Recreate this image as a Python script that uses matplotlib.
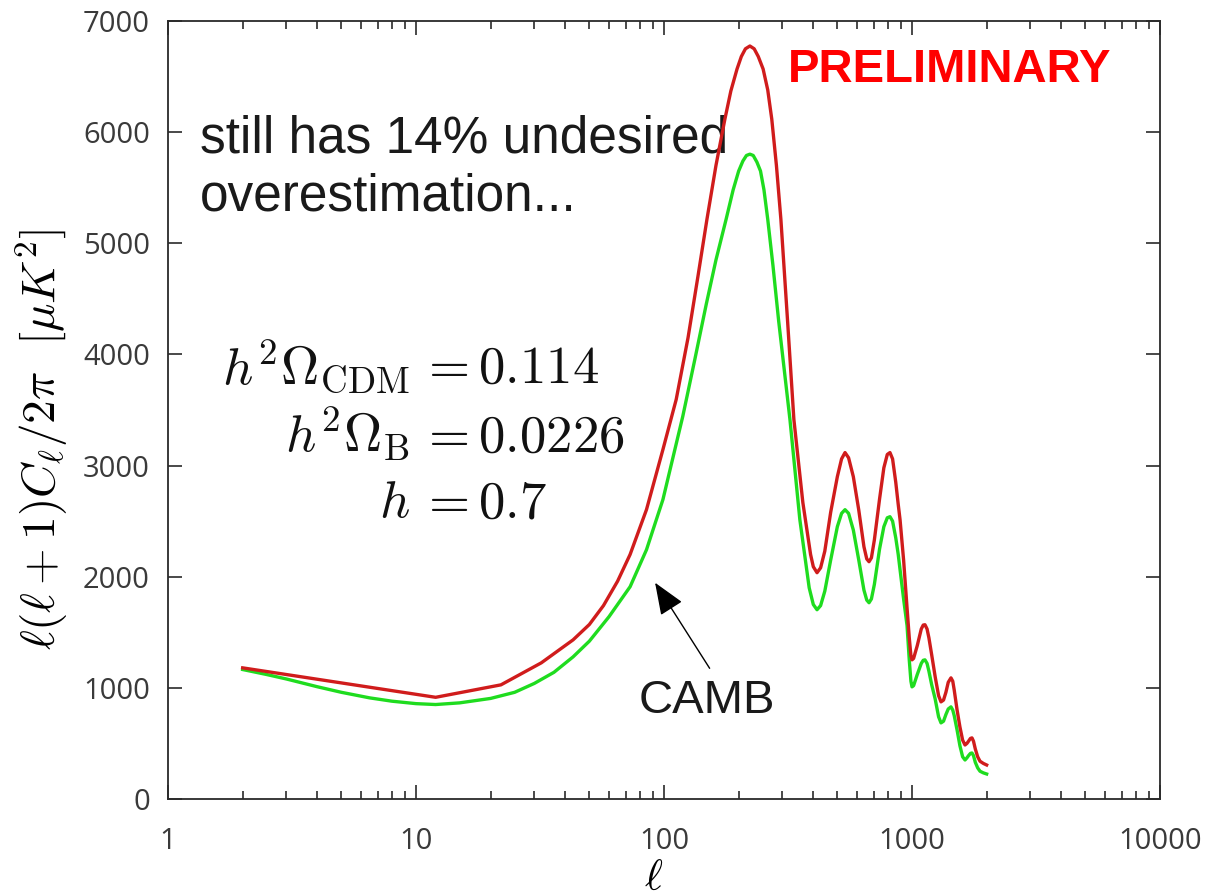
import numpy as np
import matplotlib.pyplot as plt
from matplotlib.ticker import LogLocator, NullFormatter, FixedLocator, NullLocator

plt.rcParams['mathtext.fontset'] = 'cm'

# values: multipole l and l(l+1)C_l/2pi [uK^2]
ell_red = [2, 12, 22, 32, 43, 50, 57, 65, 73, 85, 99, 112, 125, 137, 149, 162,
           176, 186, 197, 205, 213, 222, 231, 240, 251, 262, 272, 284, 296, 315,
           334, 363, 390, 400, 414, 428, 445, 470, 500, 520, 537, 555, 580, 610,
           640, 657, 671, 686, 705, 740, 770, 795, 815, 835, 860, 880, 895, 925,
           955, 975, 990, 1000, 1015, 1050, 1090, 1110, 1128, 1150, 1170, 1200,
           1240, 1280, 1309, 1340, 1370, 1400, 1436, 1460, 1480, 1520, 1560,
           1600, 1636, 1665, 1690, 1720, 1745, 1770, 1800, 1840, 1880, 1940, 2000]
cl_red = [1180, 915, 1027, 1225, 1432, 1570, 1740, 1960, 2200, 2604, 3144, 3595,
          4150, 4700, 5216, 5700, 6117, 6370, 6568, 6680, 6750, 6775, 6750, 6680,
          6568, 6380, 6117, 5700, 5216, 4300, 3414, 2667, 2200, 2090, 2036, 2080,
          2230, 2580, 2900, 3060, 3117, 3070, 2900, 2600, 2270, 2160, 2135, 2170,
          2330, 2700, 2980, 3100, 3117, 3060, 2850, 2650, 2513, 2150, 1720, 1450,
          1290, 1252, 1265, 1380, 1530, 1565, 1568, 1530, 1450, 1300, 1100, 930,
          874, 890, 960, 1050, 1090, 1060, 980, 800, 650, 530, 486, 500, 520, 545,
          550, 520, 450, 380, 340, 320, 306]

ell_green = [2, 2.5, 3, 4, 5, 6.5, 8, 10, 12, 15, 20, 25, 30, 36, 43, 50, 60, 73,
             85, 99, 119, 133, 148, 162, 178, 190, 200, 208, 215, 222, 229, 237,
             245, 253, 262, 275, 290, 322, 353, 385, 400, 414, 428, 445, 470, 500,
             520, 537, 555, 580, 610, 640, 657, 671, 686, 705, 740, 770, 795, 815,
             835, 860, 880, 895, 925, 955, 975, 990, 1000, 1015, 1050, 1090, 1110,
             1128, 1150, 1170, 1200, 1240, 1280, 1309, 1340, 1370, 1400, 1436,
             1460, 1480, 1520, 1560, 1600, 1636, 1665, 1690, 1720, 1745, 1770,
             1800, 1840, 1880, 1940, 2000]
cl_green = [1165, 1120, 1080, 1010, 960, 910, 880, 858, 850, 865, 905, 960, 1040,
            1140, 1279, 1420, 1640, 1910, 2243, 2694, 3441, 3950, 4450, 4850, 5216,
            5480, 5650, 5740, 5790, 5802, 5790, 5730, 5650, 5480, 5216, 4800, 4300,
            3414, 2513, 1900, 1750, 1703, 1740, 1870, 2150, 2450, 2570, 2603, 2570,
            2420, 2150, 1880, 1790, 1766, 1800, 1930, 2250, 2450, 2530, 2540, 2500,
            2350, 2200, 2063, 1800, 1560, 1250, 1060, 1009, 1020, 1120, 1220, 1248,
            1252, 1220, 1150, 1030, 900, 740, 685, 700, 760, 810, 829, 800, 750,
            620, 480, 380, 351, 370, 390, 410, 414, 390, 330, 280, 250, 235, 225]

yticks = [0, 1000, 2000, 3000, 4000, 5000, 6000, 7000]
xticks = [1, 10, 100, 1000, 10000]

fig = plt.figure(figsize=(12.11, 8.96), dpi=100)
ax = fig.add_axes([168/1211, 1-799/896, 992/1211, 778/896])

ax.plot(ell_green, cl_green, color='#1fdc1f', lw=2.4, zorder=3)
ax.plot(ell_red, cl_red, color='#d01c1c', lw=2.4, zorder=4)

ax.set_xscale('log')
ax.set_xlim(1, 10000)
ax.set_ylim(0, 7000)

ax.xaxis.set_major_locator(FixedLocator(xticks))
ax.set_xticklabels([str(v) for v in xticks])
ax.xaxis.set_minor_locator(LogLocator(base=10, subs=np.arange(2, 10)))
ax.xaxis.set_minor_formatter(NullFormatter())
ax.yaxis.set_major_locator(FixedLocator(yticks))
ax.set_yticklabels([str(v) for v in yticks])
ax.yaxis.set_minor_locator(NullLocator())

for s in ax.spines.values():
    s.set_color('#2a2a2a')
    s.set_linewidth(1.3)

ax.tick_params(which='both', direction='in', top=True, right=True,
               color='#2a2a2a', width=1.2)
ax.tick_params(which='major', length=10)
ax.tick_params(which='minor', length=5.5)
ax.tick_params(axis='x', which='major', pad=20)
ax.tick_params(axis='y', which='major', pad=13)
for lab in ax.get_xticklabels() + ax.get_yticklabels():
    lab.set_fontfamily('Open Sans')
    lab.set_fontsize(21)
    lab.set_color('#3a3a3a')

ax.set_ylabel(r'$\ell(\ell+1)C_\ell/2\pi\ \ [\mu K^2]$', fontsize=34)
ax.yaxis.set_label_coords(-0.099, 0.462)
ax.set_xlabel(r'$\ell$', fontsize=31)
ax.xaxis.set_label_coords(0.489, -0.075)

ax.text(0.032, 0.88, 'still has 14% undesired\noverestimation...',
        transform=ax.transAxes, fontsize=37, family='Liberation Sans',
        color='#1a1a1a', ha='left', va='top', linespacing=1.25)

ax.text(0.788, 0.922, 'PRELIMINARY', transform=ax.transAxes, fontsize=34,
        family='Liberation Sans', fontweight='bold', color='#ff0000',
        ha='center', va='baseline')

lhs = [r'$h^2\Omega_{\rm CDM}$', r'$h^2\Omega_{\rm B}$', r'$h$']
rhs = [r'$=0.114$', r'$=0.0226$', r'$=0.7$']
rows_y = [0.535, 0.446, 0.362]
for l_txt, r_txt, yy in zip(lhs, rhs, rows_y):
    ax.text(0.244, yy, l_txt, transform=ax.transAxes, fontsize=38,
            ha='right', va='baseline', color='#111111')
    ax.text(0.253, yy, r_txt, transform=ax.transAxes, fontsize=38,
            ha='left', va='baseline', color='#111111')

ax.text(0.543, 0.1105, 'CAMB', transform=ax.transAxes, fontsize=34,
        family='Liberation Sans', color='#1a1a1a', ha='center', va='baseline')
ax.annotate('', xy=(0.491, 0.278), xytext=(0.546, 0.168),
            xycoords='axes fraction', textcoords='axes fraction',
            arrowprops=dict(arrowstyle='-|>,head_length=1.0,head_width=0.4',
                            mutation_scale=20, color='black', lw=1.0,
                            shrinkA=0, shrinkB=0))

fig.savefig('out.png', dpi=100)
